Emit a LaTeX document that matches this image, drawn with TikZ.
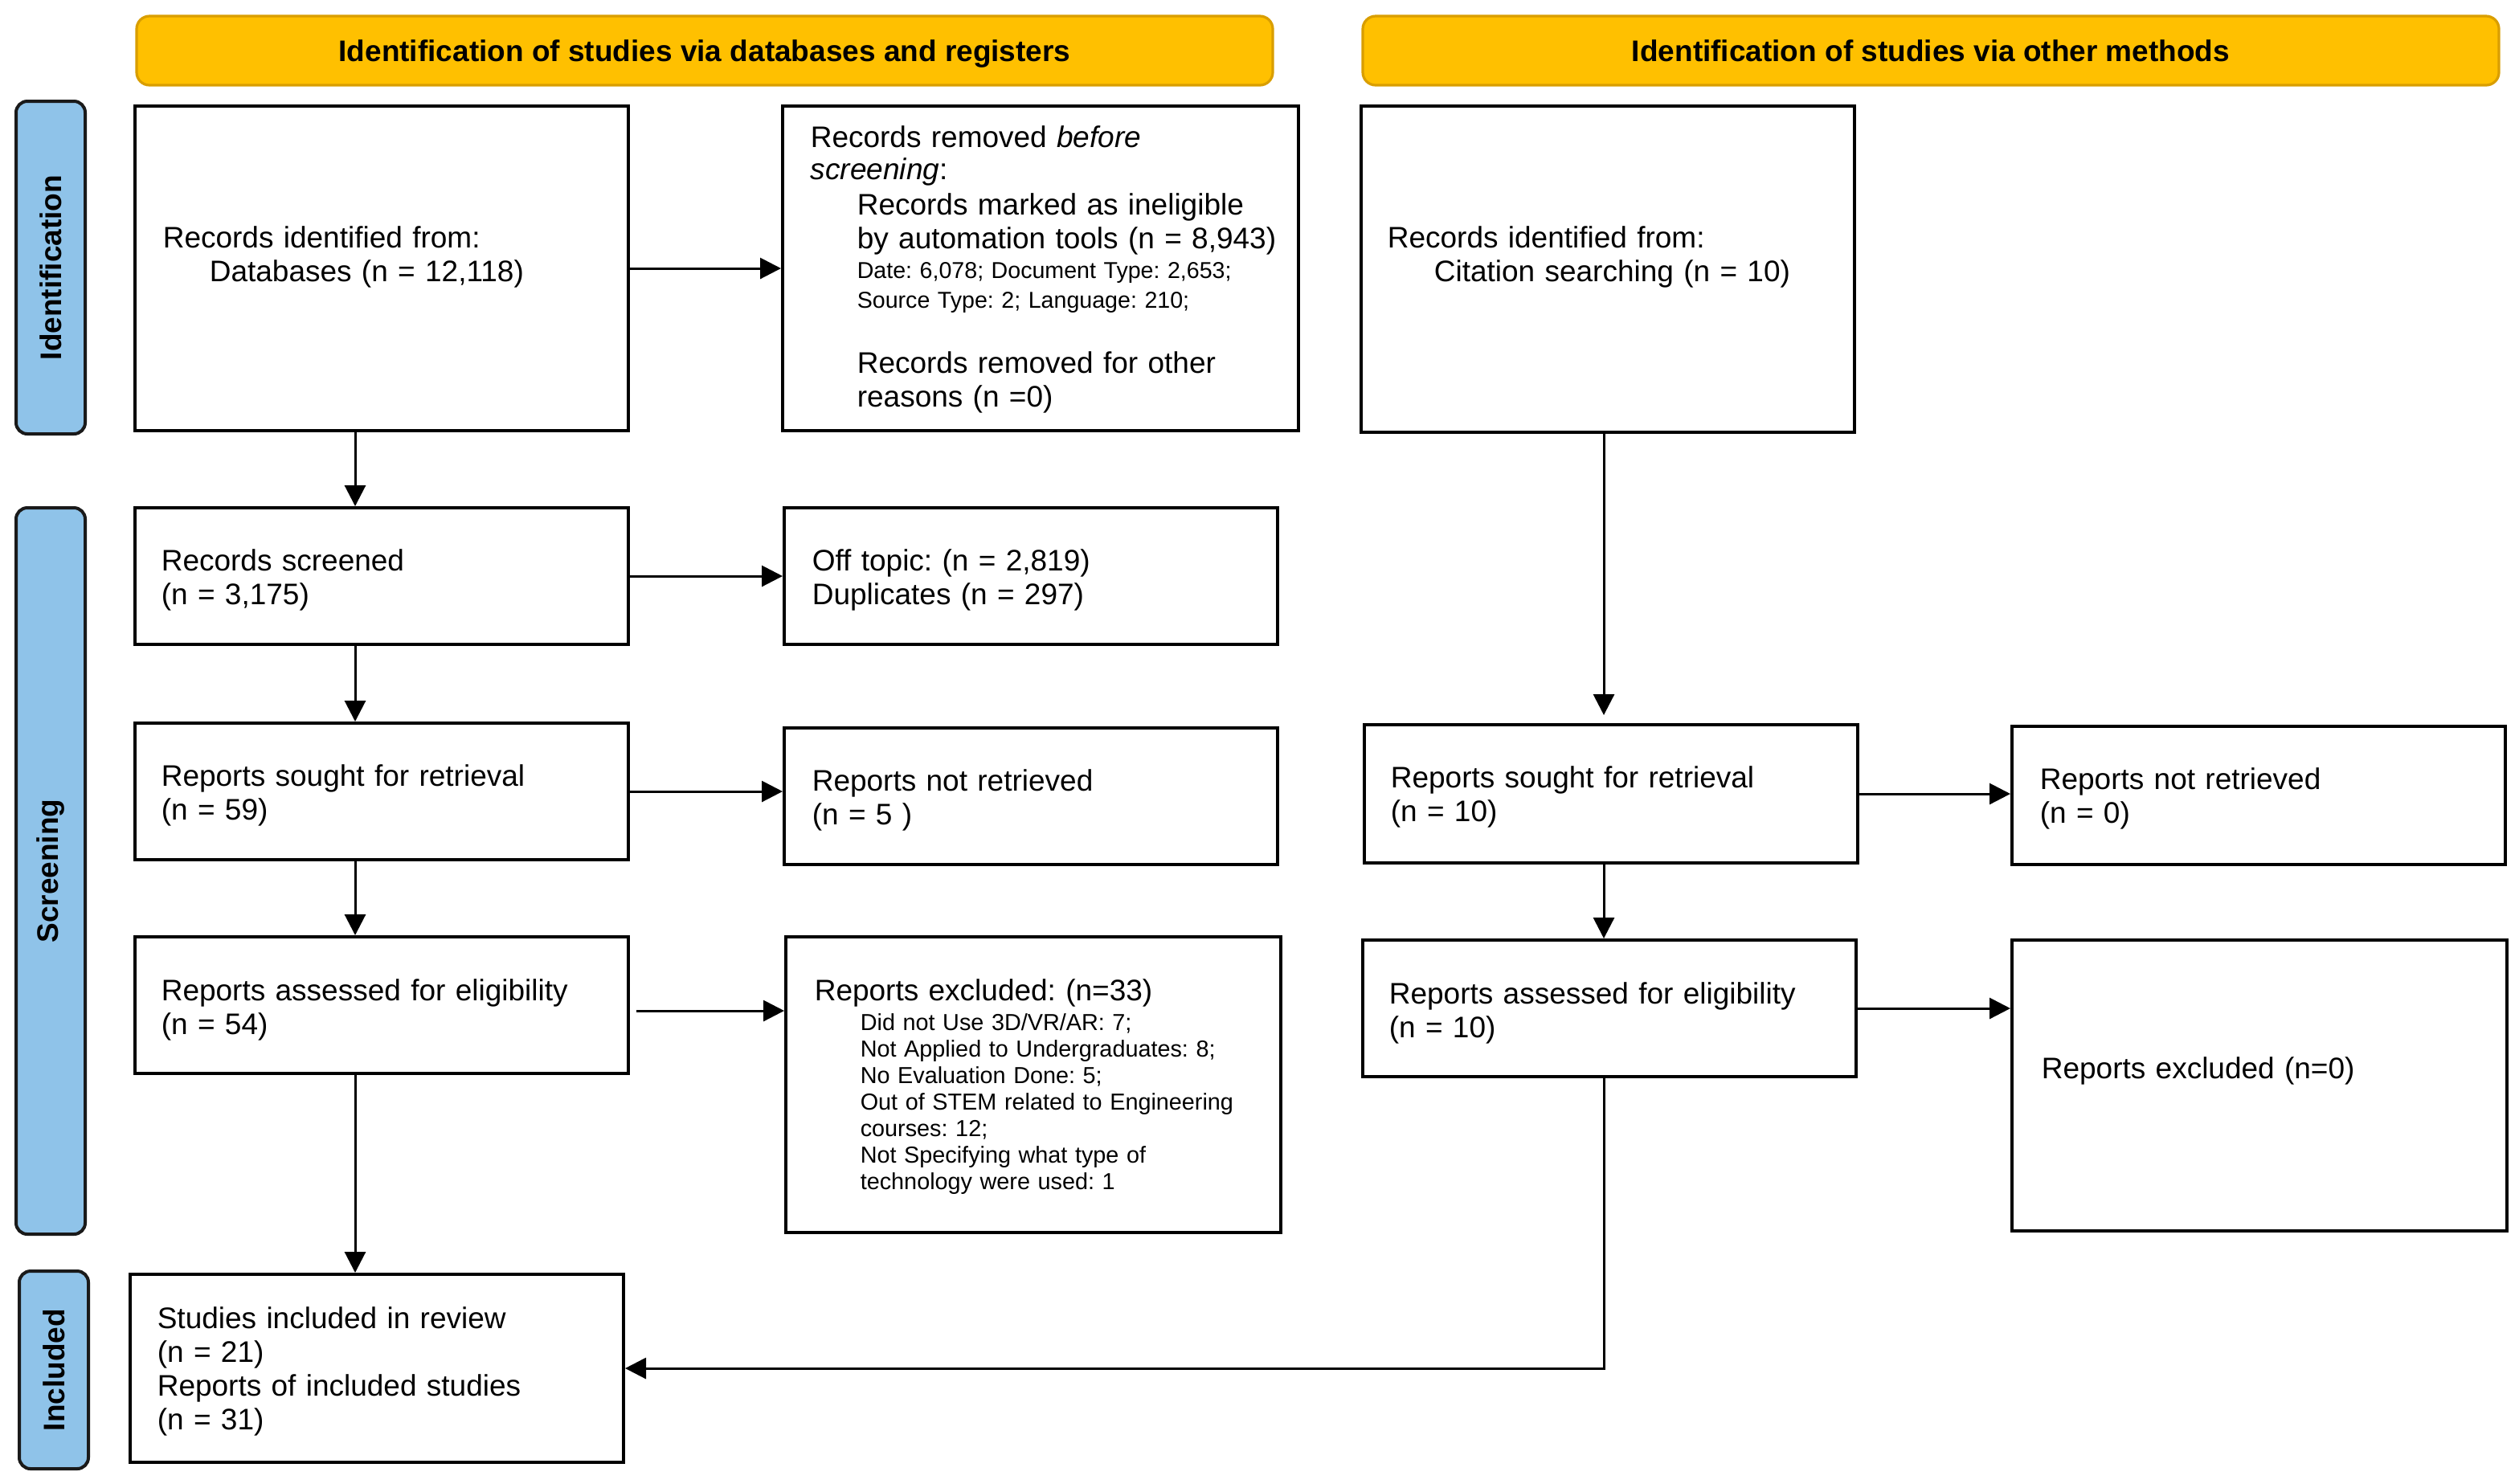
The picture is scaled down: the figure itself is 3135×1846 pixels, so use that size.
\documentclass[tikz,border=0pt]{standalone}
\usepackage{fontspec}
\setmainfont{Liberation Sans}
\usetikzlibrary{arrows.meta,fit,calc}
\definecolor{hdrfill}{HTML}{FFC000}
\definecolor{hdrline}{HTML}{D99E00}
\definecolor{sidefill}{HTML}{8FC3E9}
\definecolor{sideline}{HTML}{1A1A1A}
\frenchspacing
\begin{document}
\frenchspacing
\begin{tikzpicture}[x=0.25pt,y=-0.25pt,
  box/.style={draw=black, line width=1pt, inner sep=0pt, fill=white},
  txt/.style={inner sep=0pt, anchor=base west, align=left, text width=160pt, font=\fontsize{9.25}{10.5}\selectfont},
  small/.style={inner sep=0pt, anchor=base west, align=left, text width=160pt, font=\fontsize{7.2}{8.25}\selectfont},
  arr/.style={line width=0.75pt, -{Triangle[length=6.5pt,width=6.5pt]}},
  hdr/.style={draw=hdrline, fill=hdrfill, line width=0.8pt, rounded corners=4pt, inner sep=0pt, text height=6.8pt, text depth=0pt, font=\bfseries\fontsize{9.25}{10.5}\selectfont},
  side/.style={draw=sideline, fill=sidefill, line width=1pt, rounded corners=3.5pt, inner sep=0pt, rotate=90, font=\bfseries\fontsize{9.25}{10.5}\selectfont}
]
\useasboundingbox (0,0) rectangle (3135,1846);

% headers
\node[hdr, minimum width=1414*0.25pt, minimum height=86*0.25pt] (H1) at (877,63) {Identification of studies via databases and registers};
\node[hdr, minimum width=1414*0.25pt, minimum height=86*0.25pt] (H2) at (2403,63) {Identification of studies via other methods};

% side bars
\node[side, minimum width=414*0.25pt, minimum height=86*0.25pt] (S1) at (63,333) {Identification};
\node[side, minimum width=904*0.25pt, minimum height=86*0.25pt] (S2) at (63,1084) {Screening};
\node[side, minimum width=246*0.25pt, minimum height=86*0.25pt] (S3) at (67,1705) {Included};

% boxes
\node[box, fit={(168,132) (782,536)}] (B1) {};
\node[box, fit={(974,132) (1616,536)}] (B2) {};
\node[box, fit={(1694,132) (2308,538)}] (B3) {};
\node[box, fit={(168,632) (782,802)}] (B4) {};
\node[box, fit={(976,632) (1590,802)}] (B5) {};
\node[box, fit={(168,900) (782,1070)}] (B6) {};
\node[box, fit={(976,906) (1590,1076)}] (B7) {};
\node[box, fit={(1698,902) (2312,1074)}] (B8) {};
\node[box, fit={(2504,904) (3118,1076)}] (B9) {};
\node[box, fit={(168,1166) (782,1336)}] (B10) {};
\node[box, fit={(978,1166) (1594,1534)}] (B11) {};
\node[box, fit={(1696,1170) (2310,1340)}] (B12) {};
\node[box, fit={(2504,1170) (3120,1532)}] (B13) {};
\node[box, fit={(162,1586) (776,1820)}] (B14) {};

% texts
\node[txt] (t1) at (202,308) {Records identified from:\\\hspace*{14.5pt}Databases (n = 12,118)};
\node[txt, font=\fontsize{9.25}{10}\selectfont] (t2a) at (1008,183) {Records removed \textit{before}\\\textit{screening}:};
\node[txt] (t2b) at (1066,267) {Records marked as ineligible\\by automation tools (n = 8,943)};
\node[small, font=\fontsize{7.15}{9.25}\selectfont] (t2c) at (1066,346) {Date: 6,078; Document Type: 2,653;\\Source Type: 2; Language: 210;};
\node[txt] (t2d) at (1066,464) {Records removed for other\\reasons (n =0)};
\node[txt] (t3) at (1726,308) {Records identified from:\\\hspace*{14.5pt}Citation searching (n = 10)};
\node[txt] (t4) at (200,710) {Records screened\\(n = 3,175)};
\node[txt] (t5) at (1010,710) {Off topic: (n = 2,819)\\Duplicates (n = 297)};
\node[txt] (t6) at (200,978) {Reports sought for retrieval\\(n = 59)};
\node[txt] (t7) at (1010,984) {Reports not retrieved\\(n = 5 )};
\node[txt] (t8) at (1730,980) {Reports sought for retrieval\\(n = 10)};
\node[txt] (t9) at (2538,982) {Reports not retrieved\\(n = 0)};
\node[txt] (t10) at (200,1245) {Reports assessed for eligibility\\(n = 54)};
\node[txt] (t11a) at (1013,1245) {Reports excluded: (n=33)};
\node[small] (t11b) at (1070,1282) {Did not Use 3D/VR/AR: 7;\\Not Applied to Undergraduates: 8;\\No Evaluation Done: 5;\\Out of STEM related to Engineering\\courses: 12;\\Not Specifying what type of\\technology were used: 1};
\node[txt] (t12) at (1728,1249) {Reports assessed for eligibility\\(n = 10)};
\node[txt] (t13) at (2540,1342) {Reports excluded (n=0)};
\node[txt] (t14) at (195,1653) {Studies included in review\\(n = 21)\\Reports of included studies\\(n = 31)};

% connectors
\coordinate (cL) at (442,0);
\coordinate (cR) at (1996,0);
\draw[arr] (B1.south -| cL) -- (B4.north -| cL);
\draw[arr] (B4.south -| cL) -- (B6.north -| cL);
\draw[arr] (B6.south -| cL) -- (B10.north -| cL);
\draw[arr] (B10.south -| cL) -- (B14.north -| cL);
\draw[arr] (B1.east) -- (B1.east -| B2.west);
\draw[arr] (B4.east) -- (B4.east -| B5.west);
\draw[arr] (B6.east) -- (B6.east -| B7.west);
\draw[arr] ([xshift=2pt,yshift=-1.75pt]B10.east) -- ([yshift=-1.75pt]B10.east -| B11.west);
\draw[arr] (B3.south -| cR) -- ([yshift=2.5pt]B8.north -| cR);
\draw[arr] (B8.south -| cR) -- (B12.north -| cR);
\draw[arr] (B8.east) -- (B8.east -| B9.west);
\draw[arr] (B12.east) -- (B12.east -| B13.west);
\draw[arr] (B12.south -| cR) |- (B14.east);
\end{tikzpicture}
\end{document}
